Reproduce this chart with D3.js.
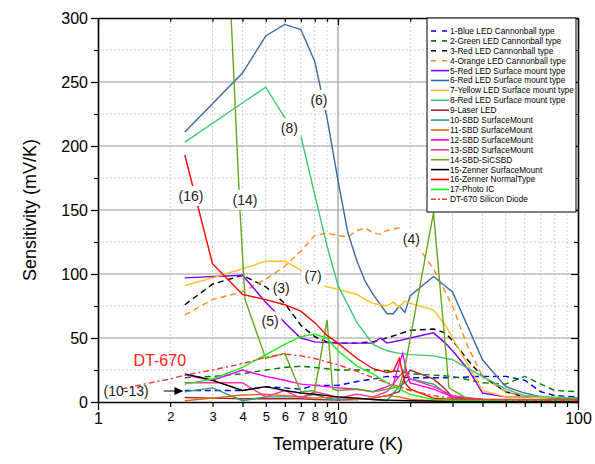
<!DOCTYPE html>
<html lang="en">
<head>
  <meta charset="UTF-8">
  <title>index</title>
  <style type="text/css">
    body { margin: 0; background: #fff; }
    svg { font-family: "Liberation Sans", Arial, sans-serif; }
  </style>
</head>
<body>
  <svg id="chart" width="595" height="464"></svg>

<script src="https://d3js.org/d3.v7.min.js"></script>
<script>
  // data: [temperature K, sensitivity mV/K]
  const blueCannon = [[2.3,9],[3,9],[4,9],[5,12],[6,11],[7,10],[8,13],[10,13],[12,16],[14,18],[16,20],[20,19],[25,19],[30,19],[40,20],[50,20],[60,17],[70,8],[80,5],[100,4]]
  const greenCannon = [[2.3,19],[3,20],[4,22],[5,25],[6,27],[7,28],[8,27],[10,25],[14,25],[18,24],[20,22],[25,21],[30,20],[40,15],[50,14],[60,20],[70,14],[80,9],[100,8]]
  const redCannon = [[2.3,76],[3,92],[4,99],[5,90],[6,77],[7,60],[8,51],[9,47],[10,46],[12,46],[14,47],[16,50],[20,56],[25,57],[28,54],[30,48],[35,32],[40,20],[50,8],[60,4],[100,3]]
  const orangeCannon = [[2.3,68],[3,80],[4,86],[5,96],[6,106],[7,118],[8,130],[9,132],[10,130],[11,129],[12,134],[13,136],[14,132],[15,131],[16,134],[18,136],[20,128],[22,119],[25,104],[28,86],[30,75],[33,54],[35,42],[40,20],[50,8],[60,4],[100,2.5]]
  const redSmd5 = [[2.3,97],[4,99],[5,78],[5.5,70],[6,62],[7,50],[8,47],[10,46],[12,46],[14,46],[15,50],[16,46],[18,48],[20,50],[25,54],[28,46],[30,40],[35,25],[40,7],[50,4],[100,3]]
  const redSmd6 = [[2.3,211],[4,257],[5,286],[6,295],[7,291],[8,266],[9,222],[10,173],[11,132],[12,110],[13,94],[14,84],[16,69],[17,69],[18,75],[19,70],[20,83],[25,98],[30,86],[40,33],[50,12],[60,7],[70,4],[80,3],[100,3]]
  const yellowSmd = [[2.3,91],[3,97],[4,104],[5,110],[6,110],[7,103],[8,93],[9,90],[10,88],[12,84],[13,80],[14,77],[16,75],[17,78],[18,74],[19,79],[20,77],[25,72],[28,60],[30,50],[35,28],[40,9],[50,4],[100,3]]
  const redSmd8 = [[2.3,203],[5,246],[6,222],[7,208],[8,162],[9,122],[10,91],[12,62],[14,45],[16,40],[18,38],[20,37],[25,36],[30,33],[40,20],[50,10],[60,5],[100,3]]
  const laserLed = [[2.3,3.5],[3,3],[4,2.5],[5,2.5],[6,2.5],[7,2.5],[8,2],[10,1.5],[12,2],[14,3],[16,5],[18,8],[19,20],[20,25],[22,22],[25,18],[28,10],[30,4],[40,2],[100,1.5]]
  const sbd10 = [[2.3,8],[3,11],[4,1],[5,4],[6,4],[7,4],[8,6],[9,3],[10,2],[12,3],[14,2],[16,1],[17,7],[18,12],[20,18],[25,14],[30,3],[40,2],[100,1.5]]
  const sbd11 = [[2.3,1],[3,3],[4,5.5],[5,6],[6,5],[7,4],[8,3],[10,4],[12,2],[14,3],[16,5],[18,4],[20,2],[25,1],[100,1]]
  const sbd12 = [[2.3,21],[3,17],[4,25],[5,20],[6,17],[7,14],[8,13],[10,11],[12,10],[14,8],[16,12],[17,14],[18,30],[18.6,38],[19.5,20],[20,15],[25,10],[30,4],[40,2],[100,1.5]]
  const sbd13 = [[2.3,15],[3,15],[4,15],[5,4],[6,9],[7,3],[8,8],[9,6],[10,3],[12,6],[14,4],[16,8],[18,20],[19,25],[20,18],[25,12],[30,5],[40,2],[100,1.5]]
  const sicSbd = [[3,620],[3.9,151],[4.1,80],[5,34],[6,38],[7,8],[8,9],[9,64],[9.5,10],[10,9],[12,10],[14,8],[16,10],[18,12],[19,27],[25,148],[29,11],[35,2],[100,1]]
  const zennerSmd = [[2.3,22],[3,17],[4,9],[5,12],[6,9],[7,7],[8,6],[9,5],[10,4],[12,3],[14,2],[16,1.5],[20,1],[30,0.5],[100,0.5]]
  const zennerNormal = [[2.3,193],[3,108],[4,84],[5,80],[6,76],[7,71],[8,62],[9,52],[10,46],[12,34],[14,26],[16,23],[17,24],[18,34],[19,15],[20,10],[25,3],[30,2],[40,2],[100,2]]
  const photoIc = [[2.3,14],[3,18],[4,27],[5,37],[6,45],[7,51],[8,53],[9,50],[10,40],[12,28],[14,22],[16,15],[18,10],[20,6],[25,2],[30,1.5],[100,1.5]]
  const dt670 = [[1.25,10],[1.6,14.5],[2,18],[2.3,21],[3,25],[4,30],[5,35],[6,37.5],[7,36],[8,34],[10,29],[12,24],[14,19],[16,15],[18,12],[20,9],[25,5],[30,3],[40,2],[50,1.5],[100,1]]

  const names = ['1-Blue LED Cannonball type', '2-Green LED Cannonball type', '3-Red LED Cannonball type',
    '4-Orange LED Cannonball type', '5-Red LED Surface mount type', '6-Red LED Surface mount type',
    '7-Yellow LED Surface mount type', '8-Red LED Surface mount type', '9-Laser LED', '10-SBD SurfaceMount',
    '11-SBD SurfaceMount', '12-SBD SurfaceMount', '13-SBD SurfaceMount', '14-SBD-SiCSBD',
    '15-Zenner SurfaceMount', '16-Zenner NormalType', '17-Photo IC', 'DT-670 Silicon Diode']

  const xTicks = [1, 2, 3, 4, 5, 6, 7, 8, 9, 10, 20, 30, 40, 50, 60, 70, 80, 90, 100]
  const yTicks = [0, 25, 50, 75, 100, 125, 150, 175, 200, 225, 250, 275, 300]

  // curve labels [text, T, value]
  const notes = [['(6)', 8.33, 236], ['(8)', 6.27, 214], ['(16)', 2.44, 161], ['(14)', 4.1, 158],
    ['(3)', 5.8, 89], ['(5)', 5.21, 63], ['(7)', 7.87, 98], ['(4)', 20.2, 127]]

  const series = [
    {d: blueCannon, c: '#0000ff', dash: '6,4'},
    {d: greenCannon, c: '#008000', dash: '6,4'},
    {d: redCannon, c: '#000000', dash: '6,4'},
    {d: orangeCannon, c: '#ff8c1a', dash: '6,4'},
    {d: redSmd5, c: '#8000ff'},
    {d: redSmd6, c: '#3a6aa6'},
    {d: yellowSmd, c: '#ffbf1f'},
    {d: redSmd8, c: '#3cc86e'},
    {d: laserLed, c: '#9c2a2a'},
    {d: sbd10, c: '#2a9d82'},
    {d: sbd11, c: '#e8640c'},
    {d: sbd12, c: '#ff00ff'},
    {d: sbd13, c: '#ff3399'},
    {d: sicSbd, c: '#66a61e'},
    {d: zennerSmd, c: '#000000'},
    {d: zennerNormal, c: '#ff0000'},
    {d: photoIc, c: '#1aef1a'},
    {d: dt670, c: '#ff3333', dash: '6,3,2,3'}
  ]

  const svg = d3.select('#chart')
  const L = 98, R = 578, T = 18, B = 402

  const x = d3.scaleLog().domain([1, 100]).range([L, R])
  const y = d3.scaleLinear().domain([0, 300]).range([B, T])

  // grid
  const grid = svg.append('g')
  grid.selectAll('.hg').data(yTicks.filter(v => v > 0 && v < 300)).enter().append('line')
    .attr('x1', L).attr('x2', R)
    .attr('y1', d => y(d)).attr('y2', d => y(d))
    .attr('stroke', d => d % 50 === 0 ? '#9a9a9a' : '#c4c4c4')
    .attr('stroke-width', d => d % 50 === 0 ? 1.2 : 0.8)
    .attr('stroke-dasharray', d => d % 50 === 0 ? null : '2,2')
  grid.selectAll('.vg').data(xTicks.filter(v => v > 1 && v < 100)).enter().append('line')
    .attr('y1', T).attr('y2', B)
    .attr('x1', d => x(d)).attr('x2', d => x(d))
    .attr('stroke', d => d === 10 ? '#9a9a9a' : '#c4c4c4')
    .attr('stroke-width', d => d === 10 ? 1.2 : 0.8)
    .attr('stroke-dasharray', d => d === 10 ? null : '2,2')

  svg.append('clipPath').attr('id', 'clip').append('rect')
    .attr('x', L).attr('y', T).attr('width', R - L).attr('height', B - T)

  const line = d3.line().x(d => x(d[0])).y(d => y(d[1]))
  const plot = svg.append('g').attr('clip-path', 'url(#clip)')
  series.forEach(s => {
    plot.append('path').attr('d', line(s.d))
      .attr('fill', 'none').attr('stroke', s.c).attr('stroke-width', 1.4)
      .attr('stroke-dasharray', s.dash || null)
  })

  // curve labels with white backing
  notes.forEach(n => {
    const g = svg.append('g').attr('transform', `translate(${x(n[1])},${y(n[2])})`)
    const w = n[0].length * 7.6
    g.append('rect').attr('x', -w / 2).attr('y', -10).attr('width', w).attr('height', 20).attr('fill', '#fff')
    g.append('text').attr('text-anchor', 'middle').attr('dy', '0.35em')
      .attr('font-size', 14).attr('fill', '#222').text(n[0])
  })

  svg.append('text').attr('x', x(1.81)).attr('y', y(32.8)).attr('dy', '0.35em')
    .attr('text-anchor', 'middle').attr('font-size', 16).attr('fill', '#ff2020').text('DT-670')
  svg.append('text').attr('x', x(1.31)).attr('y', y(8.6)).attr('dy', '0.35em')
    .attr('text-anchor', 'middle').attr('font-size', 14).attr('fill', '#222').text('(10-13)')
  svg.append('line').attr('x1', x(1.88)).attr('x2', x(2.18)).attr('y1', y(8.6)).attr('y2', y(8.6))
    .attr('stroke', '#000').attr('stroke-width', 1)
  svg.append('path')
    .attr('d', `M${x(2.27)},${y(8.6)} l-9,-4 l0,8 z`).attr('fill', '#000')

  // axes
  const isMajor = d => d === 1 || d === 10 || d === 100
  const fmtX = d => (isMajor(d) || d < 10) ? String(d) : ''
  const axBottom = svg.append('g').attr('transform', `translate(0,${B})`)
    .call(d3.axisBottom(x).tickValues(xTicks).tickFormat(fmtX).tickSize(5).tickSizeOuter(0))
  axBottom.selectAll('.tick line').attr('y2', d => isMajor(d) ? 8 : 5)
  axBottom.selectAll('.tick text').attr('y', 11)
    .attr('font-size', d => isMajor(d) ? 16 : 13)
    .attr('dy', d => isMajor(d) ? '0.71em' : '0.6em')

  const axTop = svg.append('g').attr('transform', `translate(0,${T})`)
    .call(d3.axisBottom(x).tickValues(xTicks).tickFormat('').tickSize(4).tickSizeOuter(0))
  axTop.selectAll('.tick line').attr('y2', d => isMajor(d) ? 7 : 4)

  const axLeft = svg.append('g').attr('transform', `translate(${L},0)`)
    .call(d3.axisLeft(y).tickValues(yTicks).tickFormat(d => d % 50 === 0 ? d : '').tickSizeOuter(0))
  axLeft.selectAll('.tick line').attr('x2', d => d % 50 === 0 ? -7 : -4)
  axLeft.selectAll('.tick text').attr('x', -10).attr('font-size', 16)

  const axRight = svg.append('g').attr('transform', `translate(${R},0)`)
    .call(d3.axisLeft(y).tickValues(yTicks).tickFormat('').tickSizeOuter(0))
  axRight.selectAll('.tick line').attr('x2', d => d % 50 === 0 ? -7 : -4)

  svg.selectAll('.domain').attr('stroke', '#000').attr('stroke-width', 1.6)
  svg.selectAll('.tick line').attr('stroke', '#000').attr('stroke-width', 1.2)
  svg.selectAll('.tick text').attr('fill', '#000').attr('font-family', '"Liberation Sans", Arial, sans-serif')

  // legend
  const lg = svg.append('g')
  lg.append('rect').attr('x', 427).attr('y', T).attr('width', 149).attr('height', 194)
    .attr('fill', '#fff').attr('stroke', '#000').attr('stroke-width', 1)
  series.forEach((s, i) => {
    const yy = 31 + i * 9.9
    lg.append('line').attr('x1', 431).attr('x2', 449).attr('y1', yy).attr('y2', yy)
      .attr('stroke', s.c).attr('stroke-width', 1.6)
      .attr('stroke-dasharray', s.dash ? (s.dash === '6,4' ? '5,6' : '5,2,2,2') : null)
    lg.append('text').attr('x', 450).attr('y', yy).attr('dy', '0.35em')
      .attr('font-size', 8.3).attr('fill', '#000').text(names[i])
  })

  // axis titles
  svg.append('text').attr('x', 338).attr('y', 444).attr('dy', '0.35em').attr('text-anchor', 'middle')
    .attr('font-size', 18).text('Temperature (K)')
  svg.append('text').attr('transform', `translate(30,${(T + B) / 2}) rotate(-90)`).attr('dy', '0.35em')
    .attr('text-anchor', 'middle').attr('font-size', 18).text('Sensitivity (mV/K)')
</script>
</body>
</html>
